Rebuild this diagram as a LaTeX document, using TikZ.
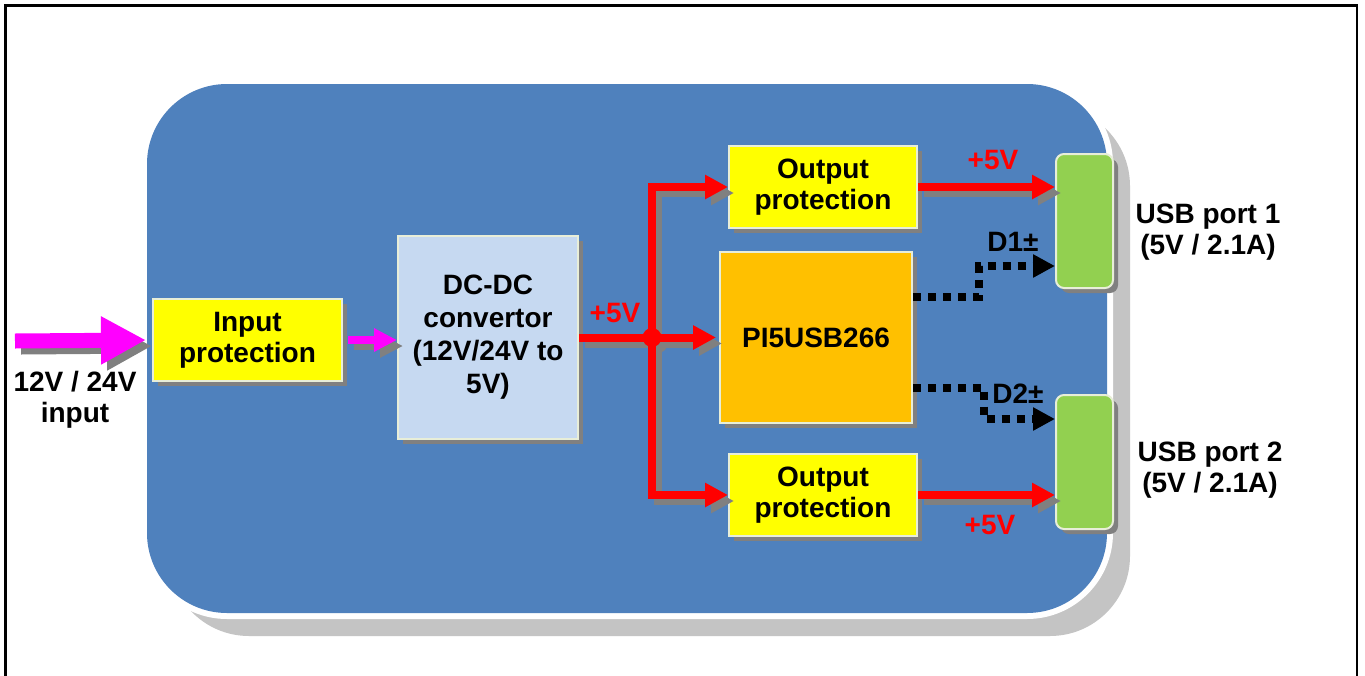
\documentclass[tikz,border=0pt]{standalone}
\usepackage{fontspec}
\setmainfont{Liberation Sans}
\usetikzlibrary{arrows.meta,shadows,calc}
\definecolor{bgblue}{HTML}{4F81BD}
\definecolor{yel}{HTML}{FFFF00}
\definecolor{ltblue}{HTML}{C6D9F1}
\definecolor{pio}{HTML}{FFC000}
\definecolor{usbg}{HTML}{92D050}
\definecolor{shadowgray}{HTML}{808080}
\definecolor{bigshadow}{HTML}{C4C4C4}
\definecolor{edge}{RGB}{232,238,216}
\definecolor{magc}{RGB}{255,0,255}
\definecolor{redc}{RGB}{255,0,0}
\definecolor{blkc}{RGB}{0,0,0}
\newcommand\links{%
  \draw[magbig] (inA) -- (inp.west);
  \draw[magsm] (inp.east) -- (inp.east -| dcdc.west);
  \draw[rline] (dcdc.east) -- (j);
  \draw[rarr, shorten >=3pt] (j) -- (pi.west);
  \draw[rarr] (j) |- (op1.west);
  \draw[rarr] (j) |- (op2.west);
  \draw[rarr] (op1.east) -- (op1.east -| u1.west);
  \draw[rarr] (op2.east) -- (op2.east -| u2.west);
  \fill[redc] (j) circle (9.5pt);
}
\begin{document}
\begin{tikzpicture}[x=1pt,y=-1pt,
  txt/.style={font=\fontsize{28}{31}\selectfont\bfseries, align=center},
  box/.style={txt, draw=edge, line width=2pt, inner sep=0pt,
    drop shadow={shadow xshift=5pt, shadow yshift=-5pt, opacity=1, fill=shadowgray}},
  magbig/.style={draw=magc, line width=15pt, -{Triangle[length=45pt,width=45pt]}, shorten >=6pt},
  magsm/.style={draw=magc, line width=8pt, -{Triangle[length=23pt,width=22pt]}, shorten <=5pt},
  rline/.style={draw=redc, line width=8pt},
  rarr/.style={draw=redc, line width=8pt, -{Triangle[length=23pt,width=23pt]}},
  dots/.style={draw=blkc, line width=8pt, dash pattern=on 8pt off 7pt, -{Triangle[length=22pt,width=22pt]}},
  rlab/.style={txt, text=redc}
]
\useasboundingbox (0,0) rectangle (1365,675);
\fill[white] (0,0) rectangle (1365,675);
\draw[line width=2.5pt] (5.5,700) -- (5.5,5.5) -- (1357,5.5) -- (1357,700);

% big board
\fill[bigshadow, rounded corners=80pt] (169,106) rectangle (1130,636);
\draw[white, line width=12pt, rounded corners=80pt] (147,84) rectangle (1107,613);
\fill[bgblue, rounded corners=80pt] (147,84) rectangle (1107,613);

% blocks
\node[box, fill=yel, minimum width=189pt, minimum height=82pt] (inp) at (247.5,340) {Input\\protection};
\node[box, fill=ltblue, minimum width=180pt, minimum height=203pt, font=\fontsize{28}{33}\selectfont\bfseries] (dcdc) at (488,337.5) {DC-DC\\convertor\\(12V/24V to\\5V)};
\node[box, fill=yel, minimum width=188pt, minimum height=82pt] (op1) at (823,187) {Output\\protection};
\node[box, fill=pio, minimum width=192pt, minimum height=171pt] (pi) at (816,337.5) {PI5USB266};
\node[box, fill=yel, minimum width=188pt, minimum height=82pt] (op2) at (823,495) {Output\\protection};
\node[box, fill=usbg, rounded corners=8pt, minimum width=57pt, minimum height=134pt] (u1) at (1084.5,221) {};
\node[box, fill=usbg, rounded corners=8pt, minimum width=57pt, minimum height=134pt] (u2) at (1084.5,462) {};

\coordinate (inA) at (15,341);
\coordinate (j) at (652,337.5);

% connector shadows
\begin{scope}[transform canvas={xshift=6pt,yshift=-6pt}]
  \colorlet{magc}{shadowgray}\colorlet{redc}{shadowgray}
  \links
\end{scope}
\links

% data lines
\draw[dots] ([yshift=41pt]pi.east) -- ++(66,0) |- ([yshift=-45pt]u1.west);
\draw[dots] ([yshift=-50pt]pi.east) -- ++(71,0) |- ([yshift=43pt]u2.west);

% labels
\node[txt] (inlab) at (75,400) {12V / 24V\\input};
\node[txt] (u1lab) at (1208,232) {USB port 1\\(5V / 2.1A)};
\node[txt] (u2lab) at (1210,470) {USB port 2\\(5V / 2.1A)};
\node[rlab] (v0) at (615,313) {+5V};
\node[rlab] (v1) at (993,160) {+5V};
\node[rlab] (v2) at (990,525) {+5V};
\node[txt] (d1) at (1013,242) {D1±};
\node[txt] (d2) at (1018,394) {D2±};
\end{tikzpicture}
\end{document}
